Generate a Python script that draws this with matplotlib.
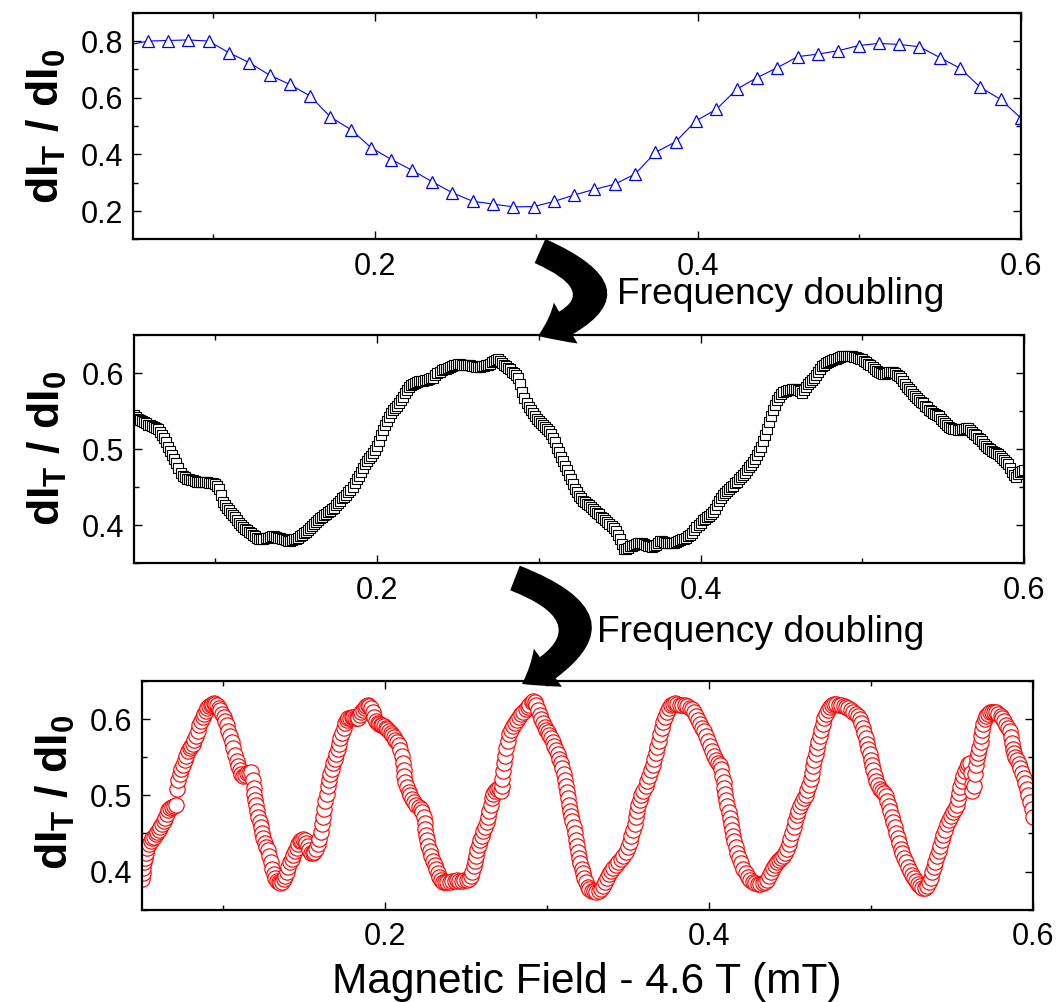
import numpy as np
import matplotlib
matplotlib.use("Agg")
import matplotlib.pyplot as plt
from matplotlib.ticker import MultipleLocator
from matplotlib.patches import FancyArrowPatch

plt.rcParams['font.family'] = ['Liberation Sans', 'DejaVu Sans']
plt.rcParams['mathtext.fontset'] = 'custom'
plt.rcParams['mathtext.rm'] = 'Liberation Sans'
plt.rcParams['mathtext.it'] = 'Liberation Sans:italic'
plt.rcParams['mathtext.bf'] = 'Liberation Sans:bold'

# --- fundamental: coarse field sweep (triangles) ---
signal_a = [0.785, 0.800, 0.802, 0.804, 0.800, 0.759, 0.724, 0.680, 0.647, 0.606,
            0.532, 0.488, 0.424, 0.382, 0.345, 0.304, 0.265, 0.235, 0.225, 0.215,
            0.216, 0.234, 0.257, 0.277, 0.295, 0.331, 0.407, 0.445, 0.519, 0.559,
            0.630, 0.671, 0.706, 0.745, 0.754, 0.766, 0.784, 0.792, 0.788, 0.780,
            0.742, 0.704, 0.637, 0.594, 0.528]
field_a = np.linspace(0.0467, 0.6, len(signal_a))

# --- first doubling: fine sweep, 1.25 uT steps (squares), one row per 10 uT ---
signal_b = [
    0.545, 0.542, 0.540, 0.538, 0.537, 0.535, 0.534, 0.532,
    0.531, 0.530, 0.529, 0.528, 0.526, 0.523, 0.519, 0.514,
    0.509, 0.503, 0.498, 0.492, 0.487, 0.481, 0.475, 0.469,
    0.465, 0.463, 0.461, 0.460, 0.459, 0.459, 0.458, 0.457,
    0.457, 0.456, 0.456, 0.456, 0.456, 0.455, 0.455, 0.455,
    0.454, 0.452, 0.447, 0.440, 0.430, 0.426, 0.423, 0.420,
    0.416, 0.413, 0.410, 0.407, 0.403, 0.400, 0.398, 0.395,
    0.393, 0.391, 0.389, 0.387, 0.385, 0.383, 0.381, 0.381,
    0.382, 0.383, 0.383, 0.384, 0.385, 0.385, 0.384, 0.383,
    0.383, 0.382, 0.381, 0.380, 0.379, 0.379, 0.380, 0.381,
    0.382, 0.383, 0.385, 0.387, 0.389, 0.391, 0.393, 0.396,
    0.399, 0.402, 0.404, 0.407, 0.409, 0.411, 0.413, 0.415,
    0.417, 0.419, 0.421, 0.423, 0.426, 0.429, 0.432, 0.435,
    0.437, 0.440, 0.443, 0.446, 0.450, 0.455, 0.460, 0.465,
    0.470, 0.475, 0.480, 0.484, 0.488, 0.491, 0.495, 0.499,
    0.504, 0.511, 0.518, 0.525, 0.532, 0.537, 0.542, 0.547,
    0.551, 0.554, 0.557, 0.560, 0.564, 0.569, 0.574, 0.578,
    0.581, 0.584, 0.586, 0.587, 0.588, 0.589, 0.590, 0.590,
    0.591, 0.591, 0.592, 0.593, 0.594, 0.597, 0.600, 0.602,
    0.604, 0.605, 0.606, 0.607, 0.608, 0.609, 0.610, 0.611,
    0.612, 0.612, 0.611, 0.610, 0.610, 0.610, 0.610, 0.609,
    0.609, 0.608, 0.608, 0.608, 0.609, 0.609, 0.610, 0.611,
    0.612, 0.614, 0.616, 0.617, 0.618, 0.616, 0.613, 0.611,
    0.609, 0.607, 0.605, 0.602, 0.600, 0.597, 0.593, 0.585,
    0.575, 0.567, 0.560, 0.555, 0.551, 0.547, 0.544, 0.540,
    0.537, 0.534, 0.531, 0.529, 0.527, 0.524, 0.520, 0.515,
    0.509, 0.502, 0.496, 0.490, 0.484, 0.478, 0.472, 0.466,
    0.460, 0.454, 0.448, 0.443, 0.438, 0.435, 0.432, 0.430,
    0.428, 0.426, 0.424, 0.421, 0.419, 0.416, 0.414, 0.411,
    0.409, 0.406, 0.404, 0.401, 0.399, 0.396, 0.392, 0.387,
    0.381, 0.375, 0.369, 0.369, 0.370, 0.372, 0.373, 0.374,
    0.375, 0.376, 0.376, 0.376, 0.375, 0.374, 0.373, 0.372,
    0.371, 0.372, 0.374, 0.377, 0.379, 0.379, 0.378, 0.377,
    0.376, 0.376, 0.376, 0.377, 0.378, 0.379, 0.380, 0.381,
    0.382, 0.383, 0.385, 0.387, 0.390, 0.393, 0.397, 0.400,
    0.403, 0.406, 0.408, 0.410, 0.412, 0.414, 0.417, 0.421,
    0.426, 0.431, 0.435, 0.439, 0.442, 0.445, 0.447, 0.450,
    0.452, 0.455, 0.457, 0.460, 0.463, 0.466, 0.469, 0.472,
    0.476, 0.479, 0.483, 0.487, 0.492, 0.497, 0.503, 0.510,
    0.518, 0.527, 0.536, 0.544, 0.551, 0.558, 0.564, 0.568,
    0.572, 0.575, 0.577, 0.578, 0.578, 0.579, 0.579, 0.579,
    0.578, 0.576, 0.574, 0.578, 0.582, 0.585, 0.588, 0.591,
    0.594, 0.598, 0.602, 0.606, 0.609, 0.611, 0.613, 0.615,
    0.616, 0.617, 0.618, 0.619, 0.620, 0.621, 0.622, 0.622,
    0.622, 0.622, 0.622, 0.622, 0.621, 0.621, 0.620, 0.619,
    0.618, 0.616, 0.614, 0.612, 0.610, 0.608, 0.605, 0.603,
    0.601, 0.600, 0.599, 0.599, 0.600, 0.601, 0.601, 0.601,
    0.600, 0.598, 0.596, 0.593, 0.589, 0.586, 0.582, 0.579,
    0.576, 0.573, 0.570, 0.567, 0.565, 0.562, 0.560, 0.557,
    0.555, 0.552, 0.550, 0.548, 0.546, 0.545, 0.543, 0.540,
    0.537, 0.534, 0.531, 0.529, 0.528, 0.527, 0.526, 0.525,
    0.525, 0.526, 0.527, 0.528, 0.528, 0.525, 0.523, 0.520,
    0.518, 0.515, 0.513, 0.510, 0.507, 0.504, 0.502, 0.500,
    0.498, 0.496, 0.495, 0.493, 0.491, 0.488, 0.486, 0.483,
    0.480, 0.475, 0.470, 0.466, 0.463, 0.467, 0.470, 0.471,
    0.472,
]
field_b = np.linspace(0.05, 0.6, len(signal_b))

# --- second doubling: (field, signal) pairs (circles) ---
scan_c = [
    (0.0500, 0.390), (0.0505, 0.398), (0.0510, 0.405), (0.0515, 0.412), (0.0520, 0.418),
    (0.0528, 0.425), (0.0535, 0.431), (0.0545, 0.436), (0.0555, 0.440), (0.0565, 0.444),
    (0.0575, 0.446), (0.0585, 0.449), (0.0595, 0.452), (0.0605, 0.455), (0.0615, 0.458),
    (0.0625, 0.462), (0.0635, 0.466), (0.0645, 0.470), (0.0655, 0.476), (0.0665, 0.481),
    (0.0675, 0.484), (0.0685, 0.485), (0.0700, 0.486), (0.0712, 0.487), (0.0720, 0.508),
    (0.0726, 0.520), (0.0735, 0.528), (0.0745, 0.534), (0.0755, 0.540), (0.0765, 0.546),
    (0.0775, 0.552), (0.0785, 0.558), (0.0795, 0.562), (0.0805, 0.565), (0.0815, 0.568),
    (0.0825, 0.573), (0.0835, 0.578), (0.0845, 0.585), (0.0855, 0.592), (0.0865, 0.598),
    (0.0875, 0.603), (0.0885, 0.607), (0.0895, 0.611), (0.0905, 0.614), (0.0915, 0.617),
    (0.0925, 0.619), (0.0935, 0.620), (0.0945, 0.621), (0.0955, 0.620), (0.0965, 0.618),
    (0.0975, 0.615), (0.0985, 0.612), (0.0995, 0.607), (0.1005, 0.603), (0.1015, 0.598),
    (0.1025, 0.592), (0.1035, 0.585), (0.1045, 0.578), (0.1055, 0.570), (0.1065, 0.562),
    (0.1075, 0.553), (0.1085, 0.545), (0.1095, 0.538), (0.1105, 0.533), (0.1115, 0.528),
    (0.1125, 0.526), (0.1135, 0.527), (0.1148, 0.529), (0.1160, 0.530), (0.1175, 0.531),
    (0.1185, 0.520), (0.1190, 0.510), (0.1195, 0.502), (0.1200, 0.494), (0.1205, 0.487),
    (0.1212, 0.480), (0.1220, 0.472), (0.1228, 0.465), (0.1235, 0.458), (0.1242, 0.451),
    (0.1250, 0.444), (0.1258, 0.437), (0.1268, 0.432), (0.1278, 0.428), (0.1288, 0.420),
    (0.1298, 0.412), (0.1306, 0.404), (0.1315, 0.397), (0.1325, 0.391), (0.1335, 0.388),
    (0.1345, 0.386), (0.1355, 0.385), (0.1365, 0.387), (0.1375, 0.390), (0.1385, 0.394),
    (0.1395, 0.400), (0.1405, 0.406), (0.1415, 0.412), (0.1425, 0.417), (0.1435, 0.422),
    (0.1445, 0.427), (0.1455, 0.431), (0.1465, 0.436), (0.1475, 0.440), (0.1485, 0.442),
    (0.1495, 0.443), (0.1505, 0.441), (0.1515, 0.437), (0.1525, 0.433), (0.1535, 0.428),
    (0.1545, 0.425), (0.1555, 0.424), (0.1565, 0.426), (0.1575, 0.430), (0.1585, 0.436),
    (0.1595, 0.443), (0.1605, 0.452), (0.1612, 0.462), (0.1618, 0.472), (0.1625, 0.482),
    (0.1632, 0.492), (0.1640, 0.502), (0.1648, 0.512), (0.1656, 0.520), (0.1664, 0.528),
    (0.1672, 0.535), (0.1680, 0.542), (0.1690, 0.548), (0.1700, 0.554), (0.1710, 0.561),
    (0.1718, 0.568), (0.1726, 0.575), (0.1735, 0.582), (0.1745, 0.589), (0.1755, 0.595),
    (0.1765, 0.599), (0.1775, 0.601), (0.1785, 0.602), (0.1795, 0.603), (0.1805, 0.603),
    (0.1815, 0.602), (0.1825, 0.601), (0.1835, 0.602), (0.1845, 0.605), (0.1855, 0.609),
    (0.1865, 0.612), (0.1875, 0.615), (0.1885, 0.617), (0.1895, 0.618), (0.1905, 0.617),
    (0.1915, 0.614), (0.1925, 0.609), (0.1935, 0.603), (0.1945, 0.598), (0.1955, 0.595),
    (0.1965, 0.594), (0.1975, 0.593), (0.1985, 0.592), (0.1995, 0.591), (0.2005, 0.589),
    (0.2015, 0.587), (0.2025, 0.585), (0.2035, 0.582), (0.2045, 0.579), (0.2055, 0.576),
    (0.2065, 0.573), (0.2075, 0.570), (0.2085, 0.566), (0.2095, 0.560), (0.2105, 0.552),
    (0.2110, 0.542), (0.2115, 0.533), (0.2120, 0.526), (0.2127, 0.518), (0.2136, 0.511),
    (0.2146, 0.505), (0.2156, 0.500), (0.2167, 0.495), (0.2180, 0.491), (0.2195, 0.488),
    (0.2208, 0.485), (0.2220, 0.482), (0.2232, 0.478), (0.2240, 0.472), (0.2245, 0.464),
    (0.2250, 0.456), (0.2255, 0.448), (0.2260, 0.441), (0.2268, 0.434), (0.2276, 0.427),
    (0.2285, 0.420), (0.2296, 0.414), (0.2308, 0.409), (0.2318, 0.404), (0.2326, 0.398),
    (0.2334, 0.393), (0.2345, 0.389), (0.2358, 0.387), (0.2372, 0.386), (0.2386, 0.386),
    (0.2400, 0.387), (0.2415, 0.388), (0.2430, 0.388), (0.2445, 0.389), (0.2460, 0.388),
    (0.2475, 0.388), (0.2490, 0.389), (0.2505, 0.389), (0.2520, 0.390), (0.2532, 0.394),
    (0.2540, 0.400), (0.2548, 0.407), (0.2555, 0.414), (0.2562, 0.421), (0.2570, 0.428),
    (0.2578, 0.435), (0.2588, 0.441), (0.2598, 0.447), (0.2608, 0.453), (0.2618, 0.459),
    (0.2628, 0.465), (0.2636, 0.472), (0.2644, 0.480), (0.2652, 0.488), (0.2660, 0.496),
    (0.2670, 0.502), (0.2680, 0.506), (0.2692, 0.509), (0.2705, 0.510), (0.2715, 0.506),
    (0.2720, 0.512), (0.2725, 0.522), (0.2730, 0.532), (0.2735, 0.542), (0.2742, 0.552),
    (0.2750, 0.562), (0.2758, 0.572), (0.2768, 0.580), (0.2780, 0.586), (0.2792, 0.591),
    (0.2805, 0.595), (0.2818, 0.599), (0.2830, 0.603), (0.2842, 0.607), (0.2855, 0.610),
    (0.2868, 0.613), (0.2880, 0.616), (0.2892, 0.619), (0.2905, 0.622), (0.2915, 0.624),
    (0.2925, 0.623), (0.2935, 0.619), (0.2945, 0.612), (0.2955, 0.605), (0.2965, 0.600),
    (0.2975, 0.595), (0.2985, 0.590), (0.2995, 0.586), (0.3005, 0.583), (0.3015, 0.579),
    (0.3025, 0.575), (0.3035, 0.570), (0.3045, 0.565), (0.3055, 0.560), (0.3065, 0.554),
    (0.3075, 0.548), (0.3085, 0.542), (0.3095, 0.536), (0.3105, 0.528), (0.3112, 0.520),
    (0.3118, 0.512), (0.3124, 0.504), (0.3130, 0.496), (0.3136, 0.488), (0.3143, 0.480),
    (0.3150, 0.473), (0.3157, 0.466), (0.3164, 0.458), (0.3170, 0.450), (0.3177, 0.442),
    (0.3184, 0.434), (0.3191, 0.426), (0.3198, 0.418), (0.3206, 0.411), (0.3214, 0.404),
    (0.3222, 0.398), (0.3230, 0.392), (0.3238, 0.386), (0.3250, 0.380), (0.3262, 0.377),
    (0.3275, 0.375), (0.3290, 0.374), (0.3305, 0.373), (0.3320, 0.374), (0.3335, 0.377),
    (0.3348, 0.381), (0.3360, 0.386), (0.3372, 0.392), (0.3385, 0.397), (0.3398, 0.401),
    (0.3410, 0.405), (0.3425, 0.409), (0.3440, 0.413), (0.3455, 0.417), (0.3470, 0.421),
    (0.3485, 0.426), (0.3498, 0.432), (0.3510, 0.439), (0.3520, 0.447), (0.3530, 0.455),
    (0.3540, 0.463), (0.3548, 0.471), (0.3556, 0.479), (0.3564, 0.487), (0.3572, 0.494),
    (0.3582, 0.500), (0.3595, 0.506), (0.3608, 0.512), (0.3620, 0.519), (0.3632, 0.526),
    (0.3643, 0.533), (0.3652, 0.540), (0.3661, 0.548), (0.3670, 0.556), (0.3679, 0.564),
    (0.3688, 0.572), (0.3697, 0.580), (0.3707, 0.588), (0.3717, 0.596), (0.3727, 0.603),
    (0.3738, 0.609), (0.3750, 0.614), (0.3762, 0.618), (0.3775, 0.620), (0.3790, 0.621),
    (0.3805, 0.620), (0.3820, 0.619), (0.3835, 0.619), (0.3850, 0.618), (0.3865, 0.617),
    (0.3880, 0.615), (0.3895, 0.613), (0.3910, 0.609), (0.3922, 0.604), (0.3934, 0.599),
    (0.3946, 0.594), (0.3958, 0.589), (0.3970, 0.584), (0.3982, 0.578), (0.3994, 0.572),
    (0.4006, 0.565), (0.4018, 0.558), (0.4030, 0.552), (0.4042, 0.547), (0.4055, 0.543),
    (0.4065, 0.540), (0.4074, 0.534), (0.4082, 0.526), (0.4089, 0.518), (0.4095, 0.510),
    (0.4101, 0.502), (0.4107, 0.494), (0.4113, 0.486), (0.4120, 0.478), (0.4127, 0.470),
    (0.4134, 0.462), (0.4141, 0.455), (0.4148, 0.447), (0.4156, 0.440), (0.4164, 0.432),
    (0.4174, 0.425), (0.4186, 0.418), (0.4198, 0.411), (0.4212, 0.404), (0.4226, 0.398),
    (0.4240, 0.393), (0.4255, 0.389), (0.4270, 0.386), (0.4285, 0.385), (0.4300, 0.384),
    (0.4315, 0.384), (0.4330, 0.385), (0.4345, 0.386), (0.4360, 0.389), (0.4372, 0.394),
    (0.4384, 0.400), (0.4396, 0.405), (0.4408, 0.409), (0.4420, 0.412), (0.4432, 0.415),
    (0.4444, 0.418), (0.4456, 0.421), (0.4468, 0.425), (0.4480, 0.430), (0.4492, 0.436),
    (0.4502, 0.443), (0.4512, 0.451), (0.4521, 0.459), (0.4530, 0.467), (0.4540, 0.474),
    (0.4550, 0.480), (0.4561, 0.486), (0.4572, 0.491), (0.4584, 0.496), (0.4596, 0.501),
    (0.4607, 0.507), (0.4617, 0.514), (0.4626, 0.522), (0.4634, 0.530), (0.4642, 0.538),
    (0.4650, 0.546), (0.4658, 0.554), (0.4666, 0.562), (0.4674, 0.570), (0.4682, 0.578),
    (0.4691, 0.586), (0.4700, 0.594), (0.4710, 0.601), (0.4720, 0.607), (0.4732, 0.612),
    (0.4745, 0.616), (0.4758, 0.619), (0.4772, 0.620), (0.4786, 0.620), (0.4800, 0.619),
    (0.4815, 0.618), (0.4830, 0.617), (0.4845, 0.616), (0.4860, 0.614), (0.4875, 0.612),
    (0.4890, 0.610), (0.4905, 0.607), (0.4918, 0.604), (0.4930, 0.600), (0.4940, 0.595),
    (0.4950, 0.589), (0.4958, 0.582), (0.4966, 0.575), (0.4974, 0.568), (0.4982, 0.561),
    (0.4990, 0.554), (0.4998, 0.547), (0.5006, 0.540), (0.5014, 0.533), (0.5022, 0.526),
    (0.5030, 0.519), (0.5040, 0.514), (0.5052, 0.509), (0.5065, 0.506), (0.5078, 0.503),
    (0.5090, 0.499), (0.5100, 0.493), (0.5110, 0.486), (0.5119, 0.479), (0.5128, 0.472),
    (0.5137, 0.465), (0.5146, 0.458), (0.5155, 0.451), (0.5164, 0.444), (0.5173, 0.437),
    (0.5182, 0.430), (0.5192, 0.424), (0.5203, 0.418), (0.5215, 0.412), (0.5227, 0.406),
    (0.5240, 0.401), (0.5252, 0.396), (0.5264, 0.392), (0.5277, 0.388), (0.5290, 0.384),
    (0.5303, 0.381), (0.5316, 0.379), (0.5330, 0.379), (0.5343, 0.381), (0.5355, 0.386),
    (0.5366, 0.392), (0.5376, 0.399), (0.5386, 0.406), (0.5396, 0.413), (0.5406, 0.420),
    (0.5416, 0.427), (0.5426, 0.434), (0.5436, 0.441), (0.5446, 0.448), (0.5456, 0.455),
    (0.5466, 0.462), (0.5478, 0.468), (0.5490, 0.473), (0.5503, 0.478), (0.5516, 0.482),
    (0.5528, 0.487), (0.5536, 0.495), (0.5543, 0.503), (0.5550, 0.511), (0.5558, 0.519),
    (0.5567, 0.526), (0.5578, 0.532), (0.5590, 0.537), (0.5600, 0.541), (0.5610, 0.543),
    (0.5615, 0.530), (0.5620, 0.515), (0.5625, 0.506), (0.5632, 0.512), (0.5638, 0.528),
    (0.5645, 0.540), (0.5652, 0.549), (0.5660, 0.556), (0.5668, 0.562), (0.5675, 0.570),
    (0.5680, 0.578), (0.5685, 0.586), (0.5692, 0.594), (0.5700, 0.600), (0.5710, 0.604),
    (0.5722, 0.607), (0.5735, 0.609), (0.5748, 0.610), (0.5760, 0.610), (0.5772, 0.609),
    (0.5785, 0.607), (0.5798, 0.604), (0.5810, 0.601), (0.5822, 0.597), (0.5834, 0.593),
    (0.5846, 0.589), (0.5856, 0.584), (0.5864, 0.577), (0.5870, 0.569), (0.5876, 0.561),
    (0.5882, 0.556), (0.5890, 0.551), (0.5900, 0.546), (0.5910, 0.541), (0.5920, 0.536),
    (0.5930, 0.530), (0.5940, 0.523), (0.5950, 0.516), (0.5960, 0.508), (0.5970, 0.500),
    (0.5980, 0.491), (0.5990, 0.482), (0.6000, 0.472),
]
field_c, signal_c = np.array(scan_c).T

ylabel = r'$\mathbf{dI_T\ /\ dI_0}$'


def style_axes(ax, ylo, yhi, ymajor, yminor):
    ax.set_xlim(0.05, 0.6)
    ax.set_ylim(ylo, yhi)
    ax.xaxis.set_major_locator(MultipleLocator(0.2))
    ax.xaxis.set_minor_locator(MultipleLocator(0.1))
    ax.yaxis.set_major_locator(MultipleLocator(ymajor))
    ax.yaxis.set_minor_locator(MultipleLocator(yminor))
    ax.tick_params(which='both', direction='in', top=True, right=True, width=1.0)
    ax.tick_params(which='major', length=6)
    ax.tick_params(which='minor', length=3.5)
    ax.tick_params(axis='x', pad=9, labelsize=22)
    ax.tick_params(axis='y', pad=7, labelsize=22)
    for sp in ax.spines.values():
        sp.set_linewidth(1.6)


fig = plt.figure(figsize=(10.6, 10.02), dpi=100)

ax_a = fig.add_axes([0.1252, 0.7610, 0.8380, 0.2263])
ax_a.plot(field_a, signal_a, '-', color='blue', lw=0.8, marker='^', ms=8.8,
          mfc='white', mec='blue', mew=0.9)
style_axes(ax_a, 0.1, 0.9, 0.2, 0.1)

ax_b = fig.add_axes([0.1264, 0.4381, 0.8399, 0.2275])
ax_b.plot(field_b, signal_b, ls='none', marker='s', ms=7.8,
          mfc='white', mec='black', mew=0.8)
style_axes(ax_b, 0.35, 0.65, 0.1, 0.05)

ax_c = fig.add_axes([0.1337, 0.0921, 0.8411, 0.2282])
ax_c.plot(field_c, signal_c, ls='none', marker='o', ms=11,
          mfc='white', mec='red', mew=0.85)
style_axes(ax_c, 0.35, 0.65, 0.1, 0.05)

W, H = 1060, 1002

# y labels, one per panel
for cx, cy in [(46, 126), (47, 448), (55, 792)]:
    fig.text(cx / W, 1 - cy / H, ylabel, rotation=90, ha='center', va='center',
             fontsize=32)

fig.text(587 / W, 1 - 993 / H, 'Magnetic Field - 4.6 T (mT)', fontsize=30.5,
         ha='center', va='baseline')

# curved arrows between the panels, with their captions
arrow_kw = dict(arrowstyle='simple,head_length=22,head_width=34,tail_width=19',
                color='black', lw=0, shrinkA=0, shrinkB=0, mutation_scale=1)
fig.add_artist(FancyArrowPatch((540 / W, 1 - 251 / H), (538 / W, 1 - 336 / H),
                               transform=fig.transFigure,
                               connectionstyle='arc3,rad=-1.2', **arrow_kw))
fig.add_artist(FancyArrowPatch((515 / W, 1 - 578 / H), (522 / W, 1 - 684 / H),
                               transform=fig.transFigure,
                               connectionstyle='arc3,rad=-1.07', **arrow_kw))
fig.text(617 / W, 1 - 304 / H, 'Frequency doubling', fontsize=26.8, va='baseline')
fig.text(597 / W, 1 - 642 / H, 'Frequency doubling', fontsize=26.8, va='baseline')

fig.savefig('out.png', dpi=100)
